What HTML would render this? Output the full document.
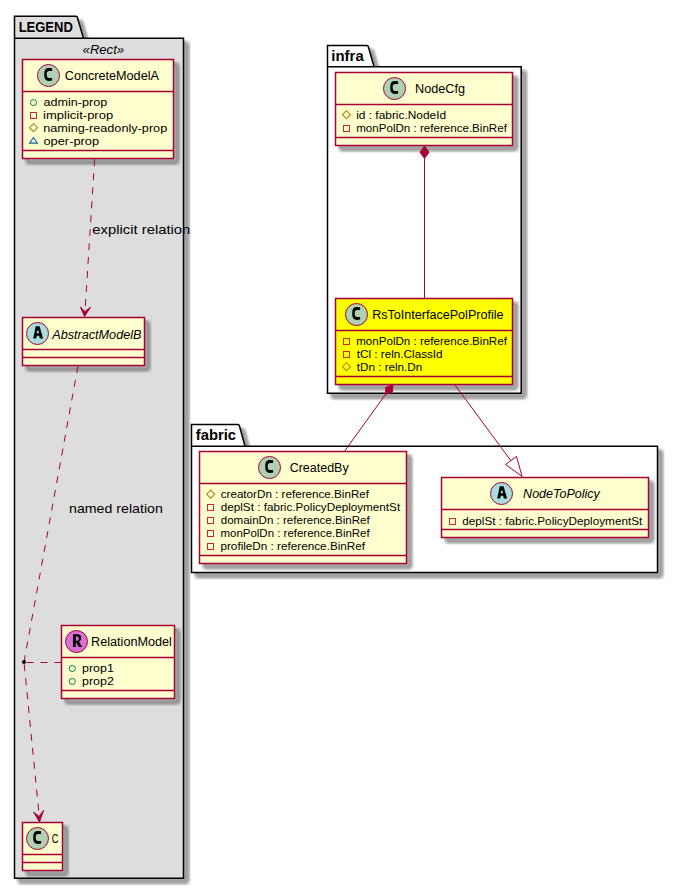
<!DOCTYPE html><html><head><meta charset="utf-8"><style>html,body{margin:0;padding:0;background:#fff;}svg{display:block;font-family:"Liberation Sans", sans-serif;}</style></head><body>
<svg width="678" height="889" viewBox="0 0 678 889">
<defs><filter id="sh" x="-20%" y="-20%" width="140%" height="140%" color-interpolation-filters="sRGB"><feConvolveMatrix in="SourceAlpha" order="6" kernelMatrix="1 1 1 1 1 1 1 1 1 1 1 1 1 1 1 1 1 1 1 1 1 1 1 1 1 1 1 1 1 1 1 1 1 1 1 1" divisor="36" targetX="2" targetY="2" edgeMode="none" preserveAlpha="false"/><feColorMatrix type="matrix" values="0 0 0 0.6667 0  0 0 0 0.6667 0  0 0 0 0.6667 0  0 0 0 1 0"/><feOffset dx="4.7" dy="4.7"/></filter></defs>
<rect width="678" height="889" fill="#FFFFFF"/>
<path d="M14.5,16.3 L76,16.3 Q77,16.3 77.3,17.3 L83.5,38.3 L183.5,38.3 L183.5,878.2 L14.5,878.2 Z" fill="#000" filter="url(#sh)"/>
<path d="M14.5,16.3 L76,16.3 Q77,16.3 77.3,17.3 L83.5,38.3 L183.5,38.3 L183.5,878.2 L14.5,878.2 Z" fill="#DDDDDD" stroke="#000" stroke-width="1.5"/>
<line x1="14.5" y1="38.3" x2="83.5" y2="38.3" stroke="#000" stroke-width="1.5"/>
<text x="18.63" y="31.90" font-size="14" font-weight="bold" font-style="normal" textLength="54.22" lengthAdjust="spacingAndGlyphs" fill="#000000">LEGEND</text>
<path d="M327.5,45.5 L367,45.5 Q368,45.5 368.3,46.5 L374,66.8 L521.2,66.8 L521.2,393.3 L327.5,393.3 Z" fill="#000" filter="url(#sh)"/>
<path d="M327.5,45.5 L367,45.5 Q368,45.5 368.3,46.5 L374,66.8 L521.2,66.8 L521.2,393.3 L327.5,393.3 Z" fill="#FFFFFF" stroke="#000" stroke-width="1.5"/>
<line x1="327.5" y1="66.8" x2="374" y2="66.8" stroke="#000" stroke-width="1.5"/>
<text x="331.36" y="60.50" font-size="14" font-weight="bold" font-style="normal" textLength="32.35" lengthAdjust="spacingAndGlyphs" fill="#000000">infra</text>
<path d="M191.5,424.5 L238,424.5 Q239,424.5 239.3,425.5 L245,446.2 L657.5,446.2 L657.5,572.5 L191.5,572.5 Z" fill="#000" filter="url(#sh)"/>
<path d="M191.5,424.5 L238,424.5 Q239,424.5 239.3,425.5 L245,446.2 L657.5,446.2 L657.5,572.5 L191.5,572.5 Z" fill="#FFFFFF" stroke="#000" stroke-width="1.5"/>
<line x1="191.5" y1="446.2" x2="245" y2="446.2" stroke="#000" stroke-width="1.5"/>
<text x="195.75" y="439.50" font-size="14" font-weight="bold" font-style="normal" textLength="40.29" lengthAdjust="spacingAndGlyphs" fill="#000000">fabric</text>
<text x="82.61" y="53.50" font-size="12" font-weight="normal" font-style="italic" textLength="41.48" lengthAdjust="spacingAndGlyphs" fill="#000000">«Rect»</text>
<rect x="22.5" y="59.5" width="151.00" height="99.00" fill="#000" filter="url(#sh)"/>
<rect x="22.5" y="59.5" width="151.00" height="99.00" fill="#FEFECE" stroke="#A80036" stroke-width="1.5"/>
<line x1="22.5" y1="91.5" x2="173.5" y2="91.5" stroke="#A80036" stroke-width="1.5"/>
<line x1="22.5" y1="150.5" x2="173.5" y2="150.5" stroke="#A80036" stroke-width="1.5"/>
<circle cx="48.5" cy="75.5" r="11" fill="#ADD1B2" stroke="#A80036" stroke-width="1"/>
<path transform="translate(48.5,75.5)" d="M3.62,-7.2 Q3.0,-7.54 0.2,-7.54 C-2.6,-7.54 -4.23,-5.6 -4.23,-2.6 L-4.23,0.6 C-4.23,3.6 -2.6,5.4 0.2,5.4 Q3.0,5.4 3.62,5.1 L3.62,2.5 Q2.6,2.4 0.8,2.4 C-0.9,2.4 -1.8,1.4 -1.8,-0.2 L-1.8,-1.9 C-1.8,-3.5 -0.9,-4.45 0.8,-4.45 Q2.6,-4.45 3.62,-4.6 Z" fill="#000" fill-rule="evenodd"/>
<text x="64.76" y="79.80" font-size="12" font-weight="normal" font-style="normal" textLength="94.17" lengthAdjust="spacingAndGlyphs" fill="#000000">ConcreteModelA</text>
<circle cx="33.5" cy="102.60" r="3.05" fill="none" stroke="#038048" stroke-width="1.0"/>
<text x="43.46" y="105.90" font-size="11" font-weight="normal" font-style="normal" textLength="63.76" lengthAdjust="spacingAndGlyphs" fill="#000000">admin-prop</text>
<rect x="30.50" y="112.50" width="6" height="6" fill="none" stroke="#C82930" stroke-width="1"/>
<text x="43.13" y="118.85" font-size="11" font-weight="normal" font-style="normal" textLength="70.01" lengthAdjust="spacingAndGlyphs" fill="#000000">implicit-prop</text>
<polygon points="33.50,123.70 37.50,127.70 33.50,131.70 29.50,127.70" fill="none" stroke="#B38D22" stroke-width="1.2"/>
<text x="43.16" y="131.80" font-size="11" font-weight="normal" font-style="normal" textLength="124.07" lengthAdjust="spacingAndGlyphs" fill="#000000">naming-readonly-prop</text>
<polygon points="33.50,137.55 37.40,143.15 29.60,143.15" fill="none" stroke="#1963A0" stroke-width="1.1"/>
<text x="43.46" y="144.75" font-size="11" font-weight="normal" font-style="normal" textLength="55.68" lengthAdjust="spacingAndGlyphs" fill="#000000">oper-prop</text>
<rect x="22.5" y="317.5" width="122.00" height="48.00" fill="#000" filter="url(#sh)"/>
<rect x="22.5" y="317.5" width="122.00" height="48.00" fill="#FEFECE" stroke="#A80036" stroke-width="1.5"/>
<line x1="22.5" y1="349.5" x2="144.5" y2="349.5" stroke="#A80036" stroke-width="1.5"/>
<line x1="22.5" y1="357.5" x2="144.5" y2="357.5" stroke="#A80036" stroke-width="1.5"/>
<circle cx="37.5" cy="333.5" r="11" fill="#A9DCDF" stroke="#A80036" stroke-width="1"/>
<path transform="translate(37.5,333.5)" d="M-1.8,-7.3 L2.1,-7.3 L5.6,5.1 L2.4,5.1 L1.59,2.2 L-0.72,2.2 L-1.3,5.1 L-4.3,5.1 Z M0.4,-4.1 L1.7,-0.3 L-1.0,-0.3 Z" fill="#000" fill-rule="evenodd"/>
<text x="52.22" y="338.60" font-size="12" font-weight="normal" font-style="italic" textLength="89.21" lengthAdjust="spacingAndGlyphs" fill="#000000">AbstractModelB</text>
<rect x="61.5" y="625.5" width="113.00" height="73.00" fill="#000" filter="url(#sh)"/>
<rect x="61.5" y="625.5" width="113.00" height="73.00" fill="#FEFECE" stroke="#A80036" stroke-width="1.5"/>
<line x1="61.5" y1="657.5" x2="174.5" y2="657.5" stroke="#A80036" stroke-width="1.5"/>
<line x1="61.5" y1="690.5" x2="174.5" y2="690.5" stroke="#A80036" stroke-width="1.5"/>
<circle cx="76.5" cy="641.5" r="11" fill="#DA70D6" stroke="#A80036" stroke-width="1"/>
<path transform="translate(76.5,641.5)" d="M-3.55,-7.3 L1.2,-7.3 Q4.65,-7.3 4.65,-3.8 Q4.65,-0.6 2.6,0.3 L5.65,5.5 L2.3,5.5 L-0.1,1.1 L-0.65,1.1 L-0.65,5.5 L-3.55,5.5 Z M-0.65,-5.1 L0.9,-5.1 Q2.25,-5.1 2.25,-2.9 Q2.25,-0.7 0.9,-0.7 L-0.65,-0.7 Z" fill="#000" fill-rule="evenodd"/>
<text x="91.06" y="645.70" font-size="12" font-weight="normal" font-style="normal" textLength="80.88" lengthAdjust="spacingAndGlyphs" fill="#000000">RelationModel</text>
<circle cx="72.3" cy="668.50" r="3.05" fill="none" stroke="#038048" stroke-width="1.0"/>
<text x="82.00" y="671.80" font-size="11" font-weight="normal" font-style="normal" textLength="31.81" lengthAdjust="spacingAndGlyphs" fill="#000000">prop1</text>
<circle cx="72.3" cy="681.45" r="3.05" fill="none" stroke="#038048" stroke-width="1.0"/>
<text x="82.00" y="684.75" font-size="11" font-weight="normal" font-style="normal" textLength="31.83" lengthAdjust="spacingAndGlyphs" fill="#000000">prop2</text>
<rect x="22.5" y="822.5" width="40.00" height="48.00" fill="#000" filter="url(#sh)"/>
<rect x="22.5" y="822.5" width="40.00" height="48.00" fill="#FEFECE" stroke="#A80036" stroke-width="1.5"/>
<line x1="22.5" y1="854.5" x2="62.5" y2="854.5" stroke="#A80036" stroke-width="1.5"/>
<line x1="22.5" y1="862.5" x2="62.5" y2="862.5" stroke="#A80036" stroke-width="1.5"/>
<circle cx="37.5" cy="838.5" r="11" fill="#ADD1B2" stroke="#A80036" stroke-width="1"/>
<path transform="translate(37.5,838.5)" d="M3.62,-7.2 Q3.0,-7.54 0.2,-7.54 C-2.6,-7.54 -4.23,-5.6 -4.23,-2.6 L-4.23,0.6 C-4.23,3.6 -2.6,5.4 0.2,5.4 Q3.0,5.4 3.62,5.1 L3.62,2.5 Q2.6,2.4 0.8,2.4 C-0.9,2.4 -1.8,1.4 -1.8,-0.2 L-1.8,-1.9 C-1.8,-3.5 -0.9,-4.45 0.8,-4.45 Q2.6,-4.45 3.62,-4.6 Z" fill="#000" fill-rule="evenodd"/>
<text x="51.73" y="842.90" font-size="12" font-weight="normal" font-style="normal" textLength="6.73" lengthAdjust="spacingAndGlyphs" fill="#000000">C</text>
<rect x="335.5" y="72.5" width="177.00" height="73.00" fill="#000" filter="url(#sh)"/>
<rect x="335.5" y="72.5" width="177.00" height="73.00" fill="#FEFECE" stroke="#A80036" stroke-width="1.5"/>
<line x1="335.5" y1="104.5" x2="512.5" y2="104.5" stroke="#A80036" stroke-width="1.5"/>
<line x1="335.5" y1="137.5" x2="512.5" y2="137.5" stroke="#A80036" stroke-width="1.5"/>
<circle cx="394.5" cy="88.5" r="11" fill="#ADD1B2" stroke="#A80036" stroke-width="1"/>
<path transform="translate(394.5,88.5)" d="M3.62,-7.2 Q3.0,-7.54 0.2,-7.54 C-2.6,-7.54 -4.23,-5.6 -4.23,-2.6 L-4.23,0.6 C-4.23,3.6 -2.6,5.4 0.2,5.4 Q3.0,5.4 3.62,5.1 L3.62,2.5 Q2.6,2.4 0.8,2.4 C-0.9,2.4 -1.8,1.4 -1.8,-0.2 L-1.8,-1.9 C-1.8,-3.5 -0.9,-4.45 0.8,-4.45 Q2.6,-4.45 3.62,-4.6 Z" fill="#000" fill-rule="evenodd"/>
<text x="415.06" y="92.70" font-size="12" font-weight="normal" font-style="normal" textLength="50.06" lengthAdjust="spacingAndGlyphs" fill="#000000">NodeCfg</text>
<polygon points="346.50,110.70 350.50,114.70 346.50,118.70 342.50,114.70" fill="none" stroke="#B38D22" stroke-width="1.2"/>
<text x="356.20" y="118.80" font-size="11" font-weight="normal" font-style="normal" textLength="89.96" lengthAdjust="spacingAndGlyphs" fill="#000000">id : fabric.NodeId</text>
<rect x="343.50" y="125.50" width="6" height="6" fill="none" stroke="#C82930" stroke-width="1"/>
<text x="356.23" y="131.75" font-size="11" font-weight="normal" font-style="normal" textLength="150.65" lengthAdjust="spacingAndGlyphs" fill="#000000">monPolDn : reference.BinRef</text>
<rect x="335.5" y="298.5" width="177.00" height="86.00" fill="#000" filter="url(#sh)"/>
<rect x="335.5" y="298.5" width="177.00" height="86.00" fill="#FFFF00" stroke="#A80036" stroke-width="1.5"/>
<line x1="335.5" y1="330.5" x2="512.5" y2="330.5" stroke="#A80036" stroke-width="1.5"/>
<line x1="335.5" y1="376.5" x2="512.5" y2="376.5" stroke="#A80036" stroke-width="1.5"/>
<circle cx="356.5" cy="314.5" r="11" fill="#ADD1B2" stroke="#A80036" stroke-width="1"/>
<path transform="translate(356.5,314.5)" d="M3.62,-7.2 Q3.0,-7.54 0.2,-7.54 C-2.6,-7.54 -4.23,-5.6 -4.23,-2.6 L-4.23,0.6 C-4.23,3.6 -2.6,5.4 0.2,5.4 Q3.0,5.4 3.62,5.1 L3.62,2.5 Q2.6,2.4 0.8,2.4 C-0.9,2.4 -1.8,1.4 -1.8,-0.2 L-1.8,-1.9 C-1.8,-3.5 -0.9,-4.45 0.8,-4.45 Q2.6,-4.45 3.62,-4.6 Z" fill="#000" fill-rule="evenodd"/>
<text x="372.18" y="319.10" font-size="12" font-weight="normal" font-style="normal" textLength="131.37" lengthAdjust="spacingAndGlyphs" fill="#000000">RsToInterfacePolProfile</text>
<rect x="343.50" y="338.50" width="6" height="6" fill="none" stroke="#C82930" stroke-width="1"/>
<text x="356.23" y="344.85" font-size="11" font-weight="normal" font-style="normal" textLength="150.65" lengthAdjust="spacingAndGlyphs" fill="#000000">monPolDn : reference.BinRef</text>
<rect x="343.50" y="351.50" width="6" height="6" fill="none" stroke="#C82930" stroke-width="1"/>
<text x="356.82" y="357.80" font-size="11" font-weight="normal" font-style="normal" textLength="85.83" lengthAdjust="spacingAndGlyphs" fill="#000000">tCl : reln.ClassId</text>
<polygon points="346.50,362.65 350.50,366.65 346.50,370.65 342.50,366.65" fill="none" stroke="#B38D22" stroke-width="1.2"/>
<text x="356.82" y="370.75" font-size="11" font-weight="normal" font-style="normal" textLength="65.43" lengthAdjust="spacingAndGlyphs" fill="#000000">tDn : reln.Dn</text>
<rect x="199.5" y="451.5" width="207.00" height="112.00" fill="#000" filter="url(#sh)"/>
<rect x="199.5" y="451.5" width="207.00" height="112.00" fill="#FEFECE" stroke="#A80036" stroke-width="1.5"/>
<line x1="199.5" y1="483.5" x2="406.5" y2="483.5" stroke="#A80036" stroke-width="1.5"/>
<line x1="199.5" y1="555.5" x2="406.5" y2="555.5" stroke="#A80036" stroke-width="1.5"/>
<circle cx="269.5" cy="467.5" r="11" fill="#ADD1B2" stroke="#A80036" stroke-width="1"/>
<path transform="translate(269.5,467.5)" d="M3.62,-7.2 Q3.0,-7.54 0.2,-7.54 C-2.6,-7.54 -4.23,-5.6 -4.23,-2.6 L-4.23,0.6 C-4.23,3.6 -2.6,5.4 0.2,5.4 Q3.0,5.4 3.62,5.1 L3.62,2.5 Q2.6,2.4 0.8,2.4 C-0.9,2.4 -1.8,1.4 -1.8,-0.2 L-1.8,-1.9 C-1.8,-3.5 -0.9,-4.45 0.8,-4.45 Q2.6,-4.45 3.62,-4.6 Z" fill="#000" fill-rule="evenodd"/>
<text x="289.67" y="471.80" font-size="12" font-weight="normal" font-style="normal" textLength="59.06" lengthAdjust="spacingAndGlyphs" fill="#000000">CreatedBy</text>
<polygon points="210.70,490.20 214.70,494.20 210.70,498.20 206.70,494.20" fill="none" stroke="#B38D22" stroke-width="1.2"/>
<text x="220.70" y="498.30" font-size="11" font-weight="normal" font-style="normal" textLength="148.38" lengthAdjust="spacingAndGlyphs" fill="#000000">creatorDn : reference.BinRef</text>
<rect x="207.50" y="504.50" width="6" height="6" fill="none" stroke="#C82930" stroke-width="1"/>
<text x="220.71" y="511.15" font-size="11" font-weight="normal" font-style="normal" textLength="179.48" lengthAdjust="spacingAndGlyphs" fill="#000000">deplSt : fabric.PolicyDeploymentSt</text>
<rect x="207.50" y="517.50" width="6" height="6" fill="none" stroke="#C82930" stroke-width="1"/>
<text x="220.71" y="524.00" font-size="11" font-weight="normal" font-style="normal" textLength="148.97" lengthAdjust="spacingAndGlyphs" fill="#000000">domainDn : reference.BinRef</text>
<rect x="207.50" y="530.50" width="6" height="6" fill="none" stroke="#C82930" stroke-width="1"/>
<text x="220.44" y="536.85" font-size="11" font-weight="normal" font-style="normal" textLength="149.25" lengthAdjust="spacingAndGlyphs" fill="#000000">monPolDn : reference.BinRef</text>
<rect x="207.50" y="543.50" width="6" height="6" fill="none" stroke="#C82930" stroke-width="1"/>
<text x="220.44" y="549.70" font-size="11" font-weight="normal" font-style="normal" textLength="144.64" lengthAdjust="spacingAndGlyphs" fill="#000000">profileDn : reference.BinRef</text>
<rect x="441.5" y="477.5" width="207.00" height="60.00" fill="#000" filter="url(#sh)"/>
<rect x="441.5" y="477.5" width="207.00" height="60.00" fill="#FEFECE" stroke="#A80036" stroke-width="1.5"/>
<line x1="441.5" y1="509.5" x2="648.5" y2="509.5" stroke="#A80036" stroke-width="1.5"/>
<line x1="441.5" y1="529.5" x2="648.5" y2="529.5" stroke="#A80036" stroke-width="1.5"/>
<circle cx="501.5" cy="493.5" r="11" fill="#A9DCDF" stroke="#A80036" stroke-width="1"/>
<path transform="translate(501.5,493.5)" d="M-1.8,-7.3 L2.1,-7.3 L5.6,5.1 L2.4,5.1 L1.59,2.2 L-0.72,2.2 L-1.3,5.1 L-4.3,5.1 Z M0.4,-4.1 L1.7,-0.3 L-1.0,-0.3 Z" fill="#000" fill-rule="evenodd"/>
<text x="523.12" y="498.00" font-size="12" font-weight="normal" font-style="italic" textLength="76.66" lengthAdjust="spacingAndGlyphs" fill="#000000">NodeToPolicy</text>
<rect x="449.50" y="518.50" width="6" height="6" fill="none" stroke="#C82930" stroke-width="1"/>
<text x="462.31" y="524.60" font-size="11" font-weight="normal" font-style="normal" textLength="179.98" lengthAdjust="spacingAndGlyphs" fill="#000000">deplSt : fabric.PolicyDeploymentSt</text>
<path d="M94.7,158.5 L84.7,316" fill="none" stroke="#A80036" stroke-width="1" stroke-dasharray="7,7" stroke-dashoffset="-0.8"/>
<polygon points="84.5,316.5 80.4,306.9 84.8,311.6 90.5,307.3" fill="#A80036" stroke="#A80036" stroke-width="1"/>
<text x="92.37" y="233.50" font-size="13" font-weight="normal" font-style="normal" textLength="97.99" lengthAdjust="spacingAndGlyphs" fill="#000000">explicit relation</text>
<path d="M78,366 L24,662" fill="none" stroke="#A80036" stroke-width="1" stroke-dasharray="7,7"/>
<path d="M24,662 L39.7,821" fill="none" stroke="#A80036" stroke-width="1" stroke-dasharray="7,7" stroke-dashoffset="-2.3"/>
<polygon points="39.4,822 33.7,812.2 39.0,816.4 43.6,810.5" fill="#A80036" stroke="#A80036" stroke-width="1"/>
<path d="M61.5,662.5 L24,662.5" fill="none" stroke="#A80036" stroke-width="1" stroke-dasharray="7,7"/>
<circle cx="24" cy="661.9" r="2" fill="#000"/>
<text x="69.06" y="512.50" font-size="13" font-weight="normal" font-style="normal" textLength="93.76" lengthAdjust="spacingAndGlyphs" fill="#000000">named relation</text>
<line x1="424.5" y1="158" x2="424.5" y2="298.7" stroke="#A80036" stroke-width="1"/>
<polygon points="424.5,146 429,152.2 424.5,158.4 420,152.2" fill="#A80036" stroke="#A80036" stroke-width="1"/>
<line x1="385.4" y1="394.6" x2="344.2" y2="451.7" stroke="#A80036" stroke-width="1"/>
<polygon points="392.9,384.8 385.9,387.3 385.4,394.6 392.4,391.9" fill="#A80036" stroke="#A80036" stroke-width="1"/>
<line x1="455" y1="385" x2="510.8" y2="460.6" stroke="#A80036" stroke-width="1"/>
<polygon points="522.1,476.5 505.5,464.5 516.5,456.5" fill="none" stroke="#A80036" stroke-width="1"/>
</svg></body></html>
